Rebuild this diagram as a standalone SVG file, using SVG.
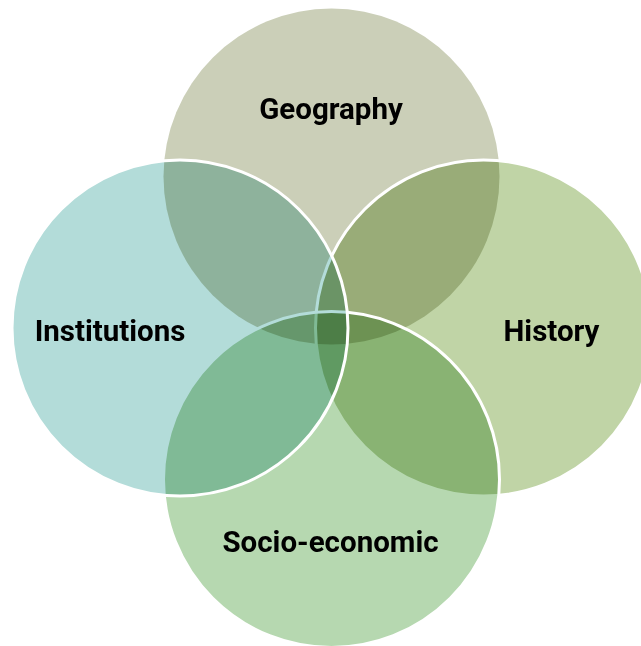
<svg xmlns="http://www.w3.org/2000/svg" width="641" height="646" viewBox="0 0 641 646">
<style>
.fill{mix-blend-mode:multiply;stroke:none}
.edge{fill:none;stroke:#ffffff;stroke-width:3}
.lbl{font-family:Roboto,"Liberation Sans",Arial,sans-serif;font-weight:700;font-size:29.5px;fill:#000;text-anchor:middle}
</style>
<rect width="641" height="646" fill="#ffffff"/>
<g id="geography">
<circle class="fill" cx="331.5" cy="176.5" r="168" fill="#cbcfb8"/>
<text class="lbl" x="331" y="118.5">Geography</text>
</g>
<g id="history">
<circle class="fill" cx="483.5" cy="328" r="168" fill="#c0d4a6"/>
<circle class="edge" cx="483.5" cy="328" r="168"/>
<text class="lbl" x="551.5" y="341">History</text>
</g>
<g id="socio-economic">
<circle class="fill" cx="331.5" cy="479.5" r="168" fill="#b6d8b0"/>
<circle class="edge" cx="331.5" cy="479.5" r="168"/>
<text class="lbl" x="330.5" y="552">Socio-economic</text>
</g>
<g id="institutions">
<circle class="fill" cx="180" cy="328" r="168" fill="#b3dcd9"/>
<circle class="edge" cx="180" cy="328" r="168"/>
<text class="lbl" x="110" y="341">Institutions</text>
</g>
</svg>
